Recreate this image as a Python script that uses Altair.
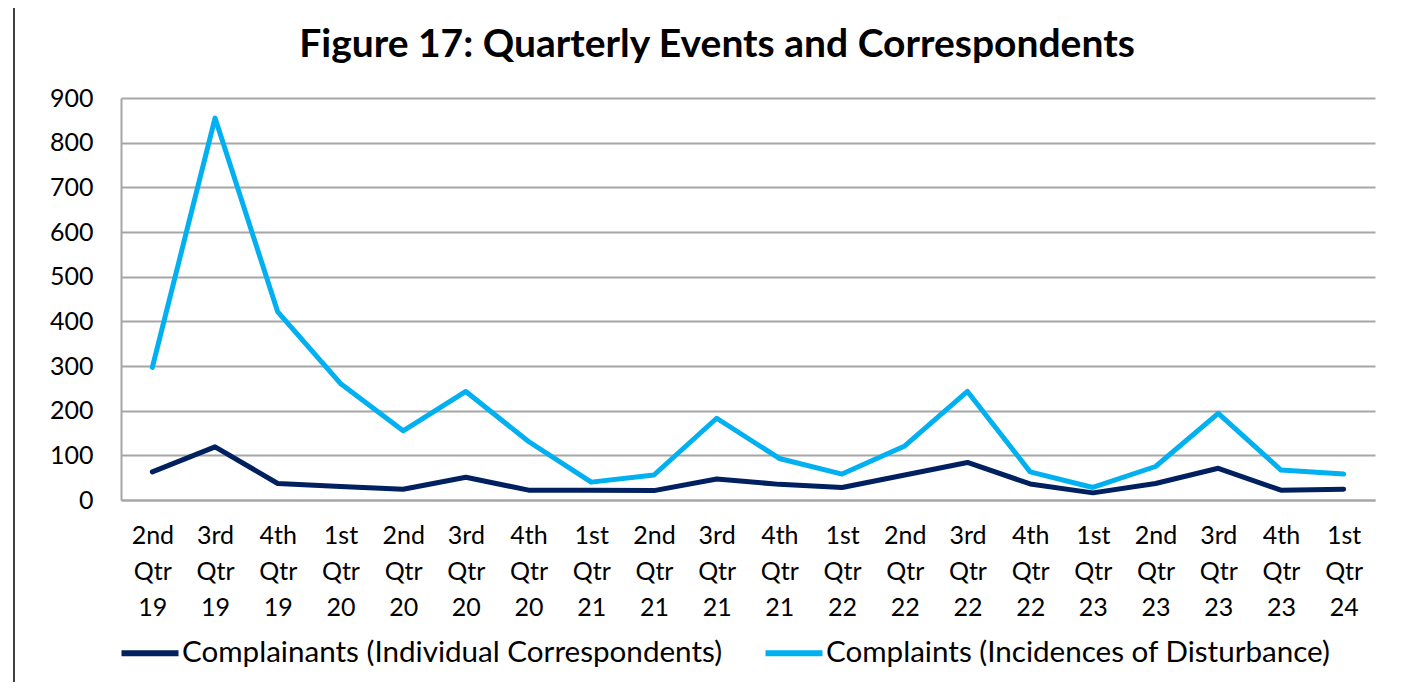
import altair as alt
import pandas as pd

quarters = ["2nd Qtr 19", "3rd Qtr 19", "4th Qtr 19", "1st Qtr 20", "2nd Qtr 20",
            "3rd Qtr 20", "4th Qtr 20", "1st Qtr 21", "2nd Qtr 21", "3rd Qtr 21",
            "4th Qtr 21", "1st Qtr 22", "2nd Qtr 22", "3rd Qtr 22", "4th Qtr 22",
            "1st Qtr 23", "2nd Qtr 23", "3rd Qtr 23", "4th Qtr 23", "1st Qtr 24"]
complainants = [63, 119, 37, 30, 24, 51, 22, 22, 21, 47, 35, 28, 56, 84, 36, 16, 37, 71, 22, 24]
complaints = [297, 855, 421, 261, 155, 243, 131, 40, 56, 183, 93, 58, 121, 243, 63, 28, 75, 194, 67, 58]

series_names = ["Complainants (Individual Correspondents)", "Complaints (Incidences of Disturbance)"]
series_colors = ["#002060", "#00B0F0"]

rows = []
for q, a, b in zip(quarters, complainants, complaints):
    rows.append({"quarter": q, "series": series_names[0], "value": a})
    rows.append({"quarter": q, "series": series_names[1], "value": b})
df = pd.DataFrame(rows)

FONT = "Lato"

lines = alt.Chart(df).mark_line(strokeWidth=5, strokeJoin="round", strokeCap="round").encode(
    x=alt.X("quarter:N", sort=quarters, title=None,
            scale=alt.Scale(type="point", padding=0.5),
            axis=alt.Axis(labelAngle=0, labelExpr="split(datum.label, ' ')",
                          labelLineHeight=36, labelBaseline="top", labelPadding=23,
                          labelFontSize=25, labelColor="#000000", labelFont=FONT,
                          ticks=False, domain=True, domainColor="#a6a6a6", domainWidth=2,
                          grid=False)),
    y=alt.Y("value:Q", title=None,
            scale=alt.Scale(domain=[0, 900], nice=False),
            axis=alt.Axis(values=list(range(0, 901, 100)), labelFontSize=25,
                          labelColor="#000000", labelFont=FONT, labelPadding=28,
                          ticks=False, domain=True, domainColor="#a6a6a6", domainWidth=2,
                          grid=True, gridColor="#a6a6a6", gridWidth=2)),
    color=alt.Color("series:N", sort=series_names,
                    scale=alt.Scale(domain=series_names, range=series_colors),
                    legend=alt.Legend(title=None, orient="none", direction="horizontal",
                                      legendX=-3, legendY=523,
                                      symbolType="stroke", symbolStrokeWidth=6,
                                      symbolSize=3250, labelFontSize=29.6, labelFont=FONT,
                                      labelColor="#000000", columnPadding=30,
                                      labelOffset=0, labelLimit=0)),
)

frame = alt.Chart(pd.DataFrame({"a": [0]})).mark_rule(color="#000000", strokeWidth=1.5, clip=False).encode(
    x=alt.value(-107), y=alt.value(-98), y2=alt.value(700)
)

chart = alt.layer(frame, lines).properties(
    width=1254, height=402,
    autosize=alt.AutoSizeParams(type="none"),
    padding={"left": 113, "top": 90, "right": 12, "bottom": 182},
    title=alt.TitleParams("Figure 17: Quarterly Events and Correspondents",
                          font=FONT, fontSize=39, fontWeight="bold", color="#000000",
                          anchor="middle", dx=-31, offset=-66),
).configure_view(stroke=None)

chart.save("out.html", embed_options={"renderer": "svg", "actions": False})
